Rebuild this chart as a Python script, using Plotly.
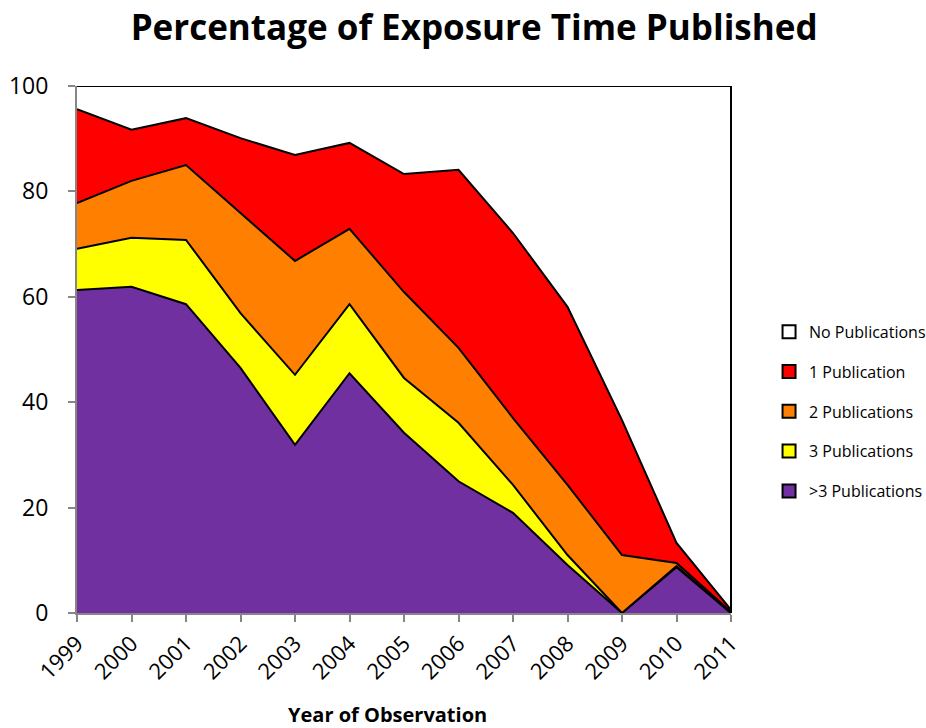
import plotly.graph_objects as go

years = [1999, 2000, 2001, 2002, 2003, 2004, 2005, 2006, 2007, 2008, 2009, 2010, 2011]

# cumulative tops
cum_gt3 = [61.3, 61.9, 58.6, 46.5, 31.9, 45.5, 34.2, 25.0, 19.0, 9.1, 0.0, 8.7, 0.0]
cum_3 = [69.1, 71.2, 70.8, 56.9, 45.2, 58.6, 44.6, 36.1, 24.3, 11.0, 0.0, 8.9, 0.0]
cum_2 = [77.8, 82.0, 85.0, 75.9, 66.8, 72.9, 60.9, 50.3, 37.0, 24.3, 11.0, 9.5, 0.2]
cum_1 = [95.6, 91.7, 93.9, 90.1, 86.9, 89.2, 83.3, 84.1, 72.1, 58.1, 36.6, 13.3, 0.6]

pub_gt3 = cum_gt3
pub_3 = [round(b - a, 2) for a, b in zip(cum_gt3, cum_3)]
pub_2 = [round(b - a, 2) for a, b in zip(cum_3, cum_2)]
pub_1 = [round(b - a, 2) for a, b in zip(cum_2, cum_1)]
pub_0 = [round(100 - a, 2) for a in cum_1]

series = [
    (">3 Publications", pub_gt3, "#7030A0"),
    ("3 Publications", pub_3, "#FFFF00"),
    ("2 Publications", pub_2, "#FF8000"),
    ("1 Publication", pub_1, "#FF0000"),
    ("No Publications", pub_0, "#FFFFFF"),
]

FONT = "Open Sans"

fig = go.Figure()
for name, vals, color in series:
    fig.add_trace(go.Scatter(
        x=years, y=vals, name=name, mode="lines",
        stackgroup="one", fillcolor=color,
        line=dict(color="black", width=2),
        showlegend=False,
    ))

# legend-only square swatches, top-down order as in the reference
n = len(series)
for i, (name, vals, color) in enumerate(series):
    fig.add_trace(go.Scatter(
        x=[None], y=[None], name=name, mode="markers",
        marker=dict(symbol="square", size=13, color=color,
                    line=dict(color="black", width=2)),
        legendgroup=name, legendrank=n - i, showlegend=True,
    ))

fig.update_layout(
    width=926, height=728,
    paper_bgcolor="white", plot_bgcolor="white",
    margin=dict(l=77, r=195, t=86, b=115),
    title=dict(text="<b>Percentage of Exposure Time Published</b>",
               x=0.512, xanchor="center", y=0.962, yanchor="middle",
               font=dict(family=FONT, size=35, color="black")),
    font=dict(family=FONT, color="black"),
    showlegend=True,
    legend=dict(traceorder="grouped", xref="container", yref="container",
                x=0.8305, xanchor="left", y=0.435, yanchor="middle",
                font=dict(family=FONT, size=16, color="black"),
                tracegroupgap=16, itemwidth=30),
    xaxis=dict(range=[1999, 2011], tickmode="array", tickvals=years,
               ticktext=[str(y) for y in years], tickangle=-45,
               showgrid=False, zeroline=False, automargin=False,
               showline=True, linecolor="#868686", linewidth=2,
               ticks="outside", ticklen=7, tickcolor="#868686", tickwidth=2,
               tickfont=dict(family=FONT, size=22, color="black")),
    yaxis=dict(range=[0, 100], tickvals=[0, 20, 40, 60, 80, 100],
               showgrid=False, zeroline=False, automargin=False,
               showline=True, linecolor="#868686", linewidth=2,
               ticks="outside", ticklen=7, tickcolor="#868686", tickwidth=2,
               ticklabelstandoff=15,
               tickfont=dict(family=FONT, size=23, color="black")),
)

fig.add_annotation(text="<b>Year of Observation</b>", xref="paper", yref="paper",
                   x=0.4755, y=-0.193, xanchor="center", yanchor="middle",
                   showarrow=False, font=dict(family=FONT, size=20, color="black"))

# right-hand border of the plot frame
fig.add_shape(type="line", xref="paper", yref="paper", x0=1, x1=1, y0=0, y1=1,
              line=dict(color="black", width=2))

fig.write_html("out.html", config={"displayModeBar": False},
               post_script="document.body.style.margin='0';")
